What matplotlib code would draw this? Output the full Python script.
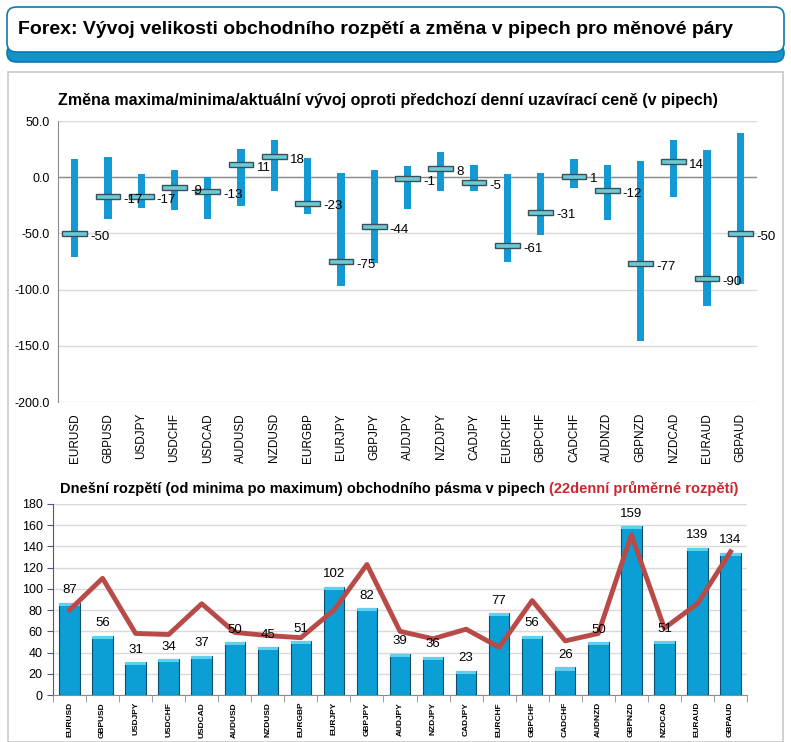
import matplotlib
matplotlib.use("Agg")
import matplotlib.pyplot as plt
from matplotlib.patches import FancyBboxPatch, Rectangle
import numpy as np

plt.rcParams['font.family'] = ['Liberation Sans', 'DejaVu Sans']

# -----------------------------
# Data
# -----------------------------
pairs = ["EURUSD", "GBPUSD", "USDJPY", "USDCHF", "USDCAD", "AUDUSD", "NZDUSD",
         "EURGBP", "EURJPY", "GBPJPY", "AUDJPY", "NZDJPY", "CADJPY", "EURCHF",
         "GBPCHF", "CADCHF", "AUDNZD", "GBPNZD", "NZDCAD", "EURAUD", "GBPAUD"]
high_chg = [16, 18, 3, 6, 0, 25, 33, 17, 4, 6, 10, 22, 11, 3, 4, 16, 11, 14, 33, 24, 39]
low_chg = [-71, -37, -27, -29, -37, -26, -12, -33, -97, -76, -28, -12, -12, -75,
           -51, -10, -38, -146, -18, -115, -95]
close_chg = [-50, -17, -17, -9, -13, 11, 18, -23, -75, -44, -1, 8, -5, -61,
             -31, 1, -12, -77, 14, -90, -50]

today_range = [87, 56, 31, 34, 37, 50, 45, 51, 102, 82, 39, 36, 23, 77, 56, 26,
               50, 159, 51, 139, 134]
avg22_range = [80, 110, 58, 57, 86, 59, 56, 54, 80, 123, 60, 53, 62, 45, 89, 51,
               58, 151, 63, 86, 135]

x = np.arange(len(pairs))

fig = plt.figure(figsize=(7.91, 7.42), dpi=100)
W, H = 791, 742


def fx(px):
    return px / W


def fy(py):
    return 1 - py / H


# -----------------------------
# Frame / header
# -----------------------------
panel = Rectangle((fx(8), fy(742)), fx(775), 670 / H, transform=fig.transFigure,
                  facecolor='white', edgecolor='#c8c8c8', lw=1.2, zorder=-5)
fig.patches.append(panel)

band = FancyBboxPatch((fx(7), fy(62)), fx(777), 18 / H, transform=fig.transFigure,
                      boxstyle="round,pad=0,rounding_size=0.012",
                      facecolor='#0f93c9', edgecolor='#0f78b0', lw=1.2, zorder=-4)
fig.patches.append(band)
head = FancyBboxPatch((fx(7), fy(52)), fx(777), 45 / H, transform=fig.transFigure,
                      boxstyle="round,pad=0,rounding_size=0.012",
                      facecolor='white', edgecolor='#0f78b0', lw=1.2, zorder=-3)
fig.patches.append(head)
fig.text(fx(18), fy(30), "Forex: Vývoj velikosti obchodního rozpětí a změna v pipech pro měnové páry",
         fontsize=14, fontweight='bold', va='center', ha='left', zorder=3)

# -----------------------------
# Top chart: high / low / close change
# -----------------------------
ax1 = fig.add_axes([fx(58), fy(402), fx(757 - 58), (402 - 121) / H])
ax1.patch.set_alpha(0)
ax1.bar(x, np.array(high_chg) - np.array(low_chg), bottom=low_chg, width=0.22,
        color='#1399d3', zorder=3)
ax1.bar(x, 4.5, bottom=np.array(close_chg) - 2.25, width=0.74,
        color='#6cc9d6', edgecolor='#3b4f57', lw=1.0, zorder=4)
for xi, c in zip(x, close_chg):
    ax1.text(xi + 0.47, c - 3, str(c), fontsize=9.5, va='center', ha='left', zorder=5)

ax1.set_ylim(-200, 50)
ax1.set_xlim(-0.5, len(pairs) - 0.5)
ax1.set_yticks([50, 0, -50, -100, -150, -200])
ax1.set_yticklabels([f"{v:.1f}" for v in [50, 0, -50, -100, -150, -200]], fontsize=9)
ax1.yaxis.grid(True, color='#d9d9d9', lw=1)
ax1.axhline(0, color='#8c8c8c', lw=1, zorder=2)
ax1.set_axisbelow(True)
ax1.set_xticks(x)
ax1.set_xticklabels(pairs, rotation=90, fontsize=8.5)
ax1.tick_params(length=0, pad=8)
ax1.tick_params(axis='y', pad=6)
for s in ['top', 'right', 'bottom']:
    ax1.spines[s].set_visible(False)
ax1.spines['left'].set_color('#8c8c8c')
ax1.text(0.0, 1.045, "Změna maxima/minima/aktuální vývoj oproti předchozí denní uzavírací ceně (v pipech)",
         transform=ax1.transAxes, fontsize=11.5, fontweight='bold', ha='left', va='bottom')

# -----------------------------
# Bottom chart: today's range vs 22-day average
# -----------------------------
ax2 = fig.add_axes([fx(53), fy(695), fx(747 - 53), (695 - 504) / H])
ax2.patch.set_alpha(0)
ax2.bar(x, today_range, width=0.62, color='#0c9fd6', edgecolor='#0b4f6e', lw=0.8, zorder=3)
ax2.bar(x, [3] * len(x), bottom=np.array(today_range) - 3, width=0.62,
        color='#5fd0ee', lw=0, zorder=4)
ax2.plot(x, avg22_range, color='#b84b48', lw=3.5, zorder=5)
for xi, v in zip(x, today_range):
    ax2.text(xi, v + 6, str(v), fontsize=9.5, ha='center', va='bottom', zorder=6)

ax2.set_ylim(0, 180)
ax2.set_xlim(-0.5, len(pairs) - 0.5)
ax2.set_yticks(range(0, 181, 20))
ax2.tick_params(axis='y', labelsize=9, length=4, color='#4a5a7a')
ax2.yaxis.grid(True, color='#d9d9d9', lw=1)
ax2.set_axisbelow(True)
ax2.set_xticks(x)
ax2.set_xticklabels(pairs, rotation=90, fontsize=6, fontweight='bold')
ax2.set_xticks(np.arange(-0.5, len(pairs), 1), minor=True)
ax2.tick_params(axis='x', which='major', length=0, pad=5)
ax2.tick_params(axis='x', which='minor', length=5, color='#8c8c8c')
for s in ['top', 'right']:
    ax2.spines[s].set_visible(False)
ax2.spines['left'].set_color('#4a5a7a')
ax2.spines['bottom'].set_color('#8c8c8c')
t1 = ax2.text(0.01, 1.04, "Dnešní rozpětí (od minima po maximum) obchodního pásma v pipech ",
              transform=ax2.transAxes, fontsize=10.5, fontweight='bold', ha='left', va='bottom')
fig.canvas.draw()
bb = t1.get_window_extent().transformed(ax2.transAxes.inverted())
ax2.text(bb.x1, 1.04, "(22denní průměrné rozpětí)", transform=ax2.transAxes,
         fontsize=10.5, fontweight='bold', color='#c8282e', ha='left', va='bottom')

fig.savefig("out.png", dpi=100)
